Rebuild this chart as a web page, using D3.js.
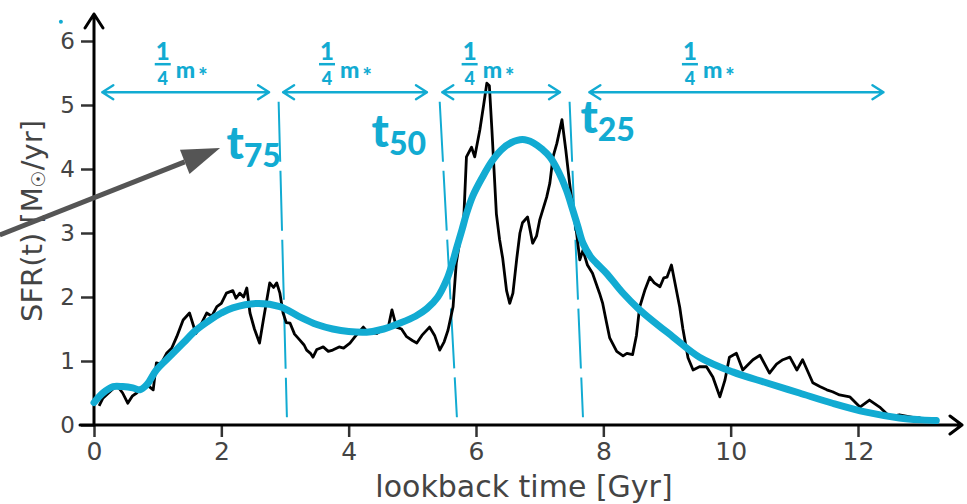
<!DOCTYPE html>
<html>
<head>
<meta charset="utf-8">
<script src="https://cdn.jsdelivr.net/npm/d3@7"></script>
<style>
  body { margin: 0; background: #fff; }
</style>
</head>
<body>
<script>
// donnees
const sfrT = [0.08,0.14,0.25,0.36,0.45,0.53,0.6,0.67,0.75,0.83,0.93,0.98,1.05,1.14,1.22,1.3,1.4,1.5,1.6,1.66,1.77,1.85,1.93,2.0,2.08,2.18,2.23,2.29,2.35,2.4,2.45,2.52,2.6,2.66,2.76,2.82,2.87,2.92,2.97,3.02,3.08,3.15,3.23,3.3,3.34,3.4,3.44,3.5,3.55,3.6,3.68,3.75,3.85,3.92,4.02,4.1,4.23,4.3,4.44,4.55,4.62,4.68,4.75,4.83,4.91,5.0,5.07,5.15,5.27,5.35,5.43,5.5,5.56,5.64,5.69,5.75,5.8,5.85,5.93,5.98,6.06,6.12,6.17,6.21,6.25,6.32,6.37,6.42,6.48,6.53,6.58,6.64,6.69,6.73,6.81,6.89,6.95,7.0,7.11,7.16,7.21,7.27,7.35,7.41,7.47,7.52,7.58,7.63,7.68,7.75,7.83,7.94,7.99,8.05,8.1,8.21,8.31,8.37,8.46,8.52,8.57,8.65,8.73,8.8,8.89,8.95,9.0,9.07,9.2,9.25,9.33,9.41,9.51,9.62,9.72,9.83,9.91,9.98,10.09,10.19,10.35,10.46,10.61,10.72,10.82,10.93,11.04,11.13,11.29,11.4,11.51,11.6,11.71,11.87,12.03,12.18,12.34,12.5,12.65,12.86,12.97,13.05];
const sfrV = [0.3,0.42,0.52,0.62,0.5,0.34,0.45,0.5,0.58,0.63,0.55,0.97,0.95,1.12,1.2,1.38,1.64,1.75,1.43,1.53,1.75,1.7,1.85,1.9,2.06,2.1,1.98,2.06,2.0,2.14,1.75,1.5,1.28,1.64,2.22,2.15,2.22,2.06,1.75,1.6,1.59,1.42,1.33,1.25,1.17,1.12,1.06,1.18,1.2,1.22,1.15,1.17,1.22,1.2,1.28,1.38,1.53,1.45,1.43,1.5,1.52,1.8,1.53,1.5,1.38,1.32,1.28,1.4,1.53,1.4,1.17,1.3,1.48,1.85,2.53,2.9,3.05,4.19,4.34,4.19,4.61,5.0,5.34,5.3,4.61,3.3,2.9,2.6,2.1,1.9,2.06,2.6,3.0,3.16,3.25,2.84,2.95,3.2,3.56,3.78,4.19,4.4,4.77,4.3,3.78,3.4,3.0,2.58,2.73,2.5,2.37,2.06,1.9,1.6,1.36,1.15,1.08,1.12,1.1,1.4,1.84,2.1,2.31,2.22,2.16,2.3,2.31,2.5,1.84,1.5,1.05,0.86,0.91,0.91,0.75,0.44,0.7,1.06,1.12,0.86,1.02,1.09,0.81,0.95,1.02,1.06,0.86,1.02,0.66,0.6,0.55,0.52,0.47,0.44,0.28,0.39,0.28,0.13,0.16,0.12,0.11,0.08];

const fitT = [0.0,0.14,0.3,0.45,0.61,0.72,0.83,0.98,1.2,1.4,1.6,1.82,2.0,2.18,2.56,2.92,3.23,3.5,3.75,4.0,4.28,4.55,4.8,5.05,5.23,5.4,5.54,5.62,5.7,5.78,5.85,5.95,6.1,6.25,6.4,6.55,6.73,6.9,7.05,7.16,7.3,7.42,7.52,7.6,7.68,7.8,7.9,8.05,8.3,8.57,9.09,9.51,10.03,10.56,11.08,11.6,12.13,12.65,13.0,13.23];
const fitV = [0.35,0.5,0.6,0.6,0.58,0.55,0.63,0.86,1.08,1.28,1.48,1.64,1.75,1.83,1.9,1.85,1.69,1.57,1.5,1.46,1.45,1.5,1.59,1.7,1.82,2.0,2.27,2.5,2.78,3.05,3.3,3.58,3.87,4.12,4.3,4.41,4.46,4.41,4.3,4.19,3.95,3.67,3.36,3.1,2.84,2.63,2.52,2.37,2.07,1.8,1.38,1.06,0.83,0.66,0.5,0.34,0.2,0.11,0.08,0.07];

const xTicks = [0, 2, 4, 6, 8, 10, 12];
const yTicks = [0, 1, 2, 3, 4, 5, 6];

// temps t75, t50, t25 (haut, bas du trait)
const pctNames = ["75", "50", "25"];
const pctTop = [2.9, 5.43, 7.47];
const pctBottom = [3.03, 5.7, 7.68];
const pctLabelT = [2.08, 4.36, 7.64];
const pctLabelV = [4.15, 4.35, 4.56];

// fleches "1/4 m*"
const quarterFrom = [0.13, 2.97, 5.47, 7.78];
const quarterTo = [2.75, 5.23, 7.32, 12.4];
const quarterLabelT = [1.08, 3.66, 5.9, 9.36];
const quarterLevel = 5.2;

const bleu = "#12abd2";
const gris = "#444";

const svg = d3.select("body").append("svg")
    .attr("width", 967)
    .attr("height", 504);

const x = d3.scaleLinear().domain([0, 12]).range([94, 858]);
const y = d3.scaleLinear().domain([0, 6]).range([425, 41]);

// axes
const gx = svg.append("g")
    .attr("transform", "translate(0,425)")
    .call(d3.axisBottom(x).tickValues(xTicks).tickFormat(d3.format("d")).tickSize(12).tickPadding(5));
gx.select(".domain").remove();
gx.selectAll("line").attr("stroke", "#333").attr("stroke-width", 2.5);
gx.selectAll("text")
    .style("font-family", "DejaVu Sans")
    .style("font-size", "25px")
    .attr("fill", gris);

const gy = svg.append("g")
    .attr("transform", "translate(94,0)")
    .call(d3.axisLeft(y).tickValues(yTicks).tickFormat(d3.format("d")).tickSize(13).tickPadding(6));
gy.select(".domain").remove();
gy.selectAll("line").attr("stroke", "#333").attr("stroke-width", 2.5);
gy.selectAll("text")
    .style("font-family", "DejaVu Sans")
    .style("font-size", "23px")
    .attr("fill", gris);

// lignes d'axes avec fleches
svg.append("path")
    .attr("d", `M${x(0)},${y(0)} L${x(0)},14 M${x(0) - 9},28 L${x(0)},14 L${x(0) + 9},28`)
    .attr("fill", "none").attr("stroke", "#000").attr("stroke-width", 3)
    .attr("stroke-linejoin", "round").attr("stroke-linecap", "round");
svg.append("path")
    .attr("d", `M${x(0) - 14},${y(0)} L962,${y(0)} M950,${y(0) - 9} L962,${y(0)} L950,${y(0) + 9}`)
    .attr("fill", "none").attr("stroke", "#000").attr("stroke-width", 3)
    .attr("stroke-linejoin", "round").attr("stroke-linecap", "round");

// titres des axes
svg.append("text")
    .attr("x", 524).attr("y", 497)
    .attr("text-anchor", "middle")
    .style("font-family", "DejaVu Sans")
    .style("font-size", "30px")
    .attr("fill", gris)
    .text("lookback time [Gyr]");

const ylab = svg.append("text")
    .attr("transform", "translate(42,221) rotate(-90)")
    .attr("text-anchor", "middle")
    .style("font-family", "DejaVu Sans")
    .style("font-size", "29px")
    .attr("fill", gris);
ylab.append("tspan").text("SFR(t) [M");
ylab.append("tspan").attr("font-size", "19px").attr("dy", 3).text("\u2609");
ylab.append("tspan").attr("dy", -3).text("/yr]");

// traits t_xx
svg.selectAll("line.pct")
    .data(pctNames)
    .enter().append("line")
    .attr("class", "pct")
    .attr("x1", (d, i) => x(pctTop[i]))
    .attr("y1", y(5.05))
    .attr("x2", (d, i) => x(pctBottom[i]))
    .attr("y2", y(0.12))
    .attr("stroke", bleu)
    .attr("stroke-width", 2)
    .attr("stroke-dasharray", "60,9");

// courbe SFR
const sfr = sfrT.map((t, i) => [t, sfrV[i]]);
svg.append("path")
    .datum(sfr)
    .attr("d", d3.line().x(d => x(d[0])).y(d => y(d[1])))
    .attr("fill", "none")
    .attr("stroke", "#000")
    .attr("stroke-width", 2.8)
    .attr("stroke-linejoin", "round");

// ajustement lisse
const fit = fitT.map((t, i) => [t, fitV[i]]);
svg.append("path")
    .datum(fit)
    .attr("d", d3.line().curve(d3.curveCatmullRom).x(d => x(d[0])).y(d => y(d[1])))
    .attr("fill", "none")
    .attr("stroke", bleu)
    .attr("stroke-width", 7)
    .attr("stroke-linecap", "round");

// fleches doubles avec "1/4 m*"
quarterFrom.forEach((a, i) => {
    const x1 = x(a), x2 = x(quarterTo[i]), yy = y(quarterLevel);
    svg.append("path")
        .attr("d", `M${x1},${yy} L${x2},${yy} M${x1 + 11},${yy - 7} L${x1},${yy} L${x1 + 11},${yy + 7} M${x2 - 11},${yy - 7} L${x2},${yy} L${x2 - 11},${yy + 7}`)
        .attr("fill", "none").attr("stroke", bleu).attr("stroke-width", 2.4)
        .attr("stroke-linecap", "round").attr("stroke-linejoin", "round");

    const cx = x(quarterLabelT[i]);
    const lab = svg.append("g").attr("fill", bleu)
        .style("font-family", "Lato").style("font-weight", "900");
    lab.append("text").attr("x", cx).attr("y", yy - 32)
        .attr("text-anchor", "middle").style("font-size", "24px").text("1");
    lab.append("line").attr("x1", cx - 8).attr("x2", cx + 8)
        .attr("y1", yy - 28).attr("y2", yy - 28)
        .attr("stroke", bleu).attr("stroke-width", 2.5);
    lab.append("text").attr("x", cx).attr("y", yy - 7)
        .attr("text-anchor", "middle").style("font-size", "18px").text("4");
    const m = lab.append("text").attr("x", cx + 13).attr("y", yy - 14)
        .style("font-size", "23px");
    m.append("tspan").text("m");
    m.append("tspan").attr("dy", 6).attr("dx", 3).style("font-size", "22px").text("*");
});

// etiquettes t75, t50, t25
pctNames.forEach((n, i) => {
    const t = svg.append("text")
        .attr("x", x(pctLabelT[i])).attr("y", y(pctLabelV[i]))
        .attr("fill", bleu)
        .style("font-family", "Lato").style("font-weight", "900")
        .style("font-size", "46px");
    t.append("tspan").text("t");
    t.append("tspan").attr("dy", 8).style("font-size", "32px").text(n);
});

// fleche grise
const ax0 = x(-1.48), ay0 = y(2.97), ax1 = x(1.98), ay1 = y(4.33);
const ang = Math.atan2(ay1 - ay0, ax1 - ax0);
const hl = 38, hw = 13;
const bx = ax1 - hl * Math.cos(ang), by = ay1 - hl * Math.sin(ang);
svg.append("line")
    .attr("x1", ax0).attr("y1", ay0).attr("x2", bx).attr("y2", by)
    .attr("stroke", "#555").attr("stroke-width", 5);
svg.append("path")
    .attr("d", `M${ax1},${ay1} L${bx + hw * Math.sin(ang)},${by - hw * Math.cos(ang)} L${bx - hw * Math.sin(ang)},${by + hw * Math.cos(ang)} Z`)
    .attr("fill", "#555");

// petit point bleu
svg.append("circle")
    .attr("cx", x(-0.52)).attr("cy", y(6.3)).attr("r", 2)
    .attr("fill", bleu);
</script>
</body>
</html>
